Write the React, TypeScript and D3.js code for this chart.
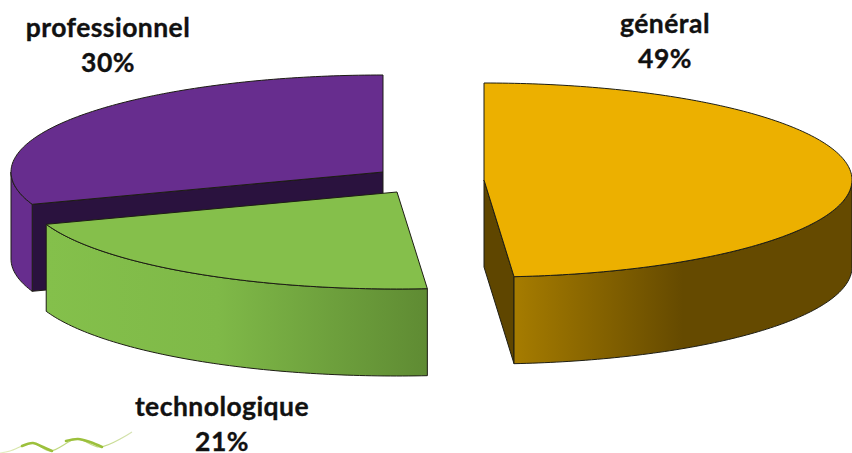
import React from "react";
import * as d3 from "d3";

const categories = ["général", "technologique", "professionnel"];
const shares = [48.7, 20.9, 30.4];
const shareLabels = ["49%", "21%", "30%"];
const topColors = ["#ECB000", "#85BF4B", "#672D8E"];
const cutColors = ["#5F4600", "#4F7A2A", "#2A123E"];
const wallStops: [number, string][][] = [
  [[0, "#A67C00"], [0.5, "#654A00"], [1, "#654A00"]],
  [[0, "#84C04B"], [0.45, "#7FB948"], [1, "#5F8B33"]],
  [[0, "#672D8E"], [1, "#672D8E"]],
];
const centers: [number, number][] = [[484, 180], [397, 192], [383, 172]];
const radiiX = [368, 372, 372];
const labelPos: [number, number][] = [[665, 33], [222, 416], [108, 37]];
const swooshLine: [number, number][] = [[0, 453], [10, 451], [33, 443], [50, 451], [77, 439], [100, 447], [132, 432]];
const swooshThick: [number, number][][] = [
  [[22, 446], [33, 443], [43, 447], [52, 451]],
  [[66, 441], [78, 439], [90, 442], [102, 447]],
];

const RY = 97;
const DEPTH = 87;
const W = 852;
const H = 453;

const arcs = d3.pie<number>().sort(null).startAngle(0).endAngle(2 * Math.PI)(shares);
const lineGen = d3.line<[number, number]>();

function pt(i: number, a: number, z = 0): [number, number] {
  const c = centers[i];
  return [c[0] + radiiX[i] * Math.sin(a), c[1] - RY * Math.cos(a) + z];
}
function arcPts(i: number, a0: number, a1: number, z = 0): [number, number][] {
  const n = Math.max(2, Math.ceil(Math.abs(a1 - a0) * 60));
  return d3.range(n + 1).map((k) => pt(i, a0 + ((a1 - a0) * k) / n, z));
}

const EDGE = "#1d1d14";

function Slice({ i }: { i: number }) {
  const a = arcs[i];
  const c = centers[i];
  const lo = Math.max(a.startAngle, Math.PI / 2);
  const hi = Math.min(a.endAngle, (3 * Math.PI) / 2);
  const top = arcPts(i, a.startAngle, a.endAngle);
  const topPath = lineGen([c, ...top])! + "Z";
  const wallTop = arcPts(i, lo, hi);
  const wallBottom = arcPts(i, hi, lo, DEPTH);
  const wallPath = lineGen([...wallTop, ...wallBottom])! + "Z";
  const xs = wallTop.map((p) => p[0]);
  const cutAngle = i === 0 ? a.endAngle : a.startAngle;
  const e = pt(i, cutAngle);
  const eb = pt(i, cutAngle, DEPTH);
  const cutPath = lineGen([c, e, eb, [c[0], c[1] + DEPTH]])! + "Z";
  const gradId = `wall-${i}`;
  return (
    <g stroke={EDGE} strokeWidth={1} strokeLinejoin="round">
      <defs>
        <linearGradient id={gradId} gradientUnits="userSpaceOnUse" x1={d3.min(xs)!} x2={d3.max(xs)!} y1={0} y2={0}>
          {wallStops[i].map(([o, col], k) => (
            <stop key={k} offset={o} stopColor={col} />
          ))}
        </linearGradient>
      </defs>
      {i !== 1 && <path d={cutPath} fill={cutColors[i]} />}
      <path d={wallPath} fill={`url(#${gradId})`} />
      <path d={topPath} fill={topColors[i]} />
    </g>
  );
}

const fontFamily = "Lato, sans-serif";

export default function App() {
  return (
    <svg
      width={W}
      height={H}
      viewBox={`0 0 ${W} ${H}`}
      style={{ position: "absolute", left: 0, top: 0, background: "#fff", display: "block" }}
    >
      <defs>
        <linearGradient id="swoosh" gradientUnits="userSpaceOnUse" x1={0} x2={134} y1={0} y2={0}>
          <stop offset={0} stopColor="#DDE8B0" />
          <stop offset={0.3} stopColor="#A5C84A" />
          <stop offset={0.75} stopColor="#A5C84A" />
          <stop offset={1} stopColor="#C8D89A" />
        </linearGradient>
      </defs>
      <path
        d={d3.line().curve(d3.curveCatmullRom)(swooshLine)!}
        fill="none"
        stroke="url(#swoosh)"
        strokeWidth={1.2}
        opacity={0.7}
      />
      {swooshThick.map((s, k) => (
        <path
          key={k}
          d={d3.line().curve(d3.curveCatmullRom)(s)!}
          fill="none"
          stroke="#9CC03C"
          strokeWidth={2.6}
          strokeLinecap="round"
        />
      ))}
      {[2, 1, 0].map((i) => (
        <Slice key={i} i={i} />
      ))}
      {categories.map((cat, i) => (
        <text
          key={cat}
          x={labelPos[i][0]}
          y={labelPos[i][1]}
          textAnchor="middle"
          fontFamily={fontFamily}
          fontWeight={700}
          fontSize={26.5}
          letterSpacing={0.45}
          fill="#111"
          stroke="#111"
          strokeWidth={0.35}
        >
          <tspan x={labelPos[i][0]}>{cat}</tspan>
          <tspan x={labelPos[i][0]} dy={35}>
            {shareLabels[i]}
          </tspan>
        </text>
      ))}
    </svg>
  );
}
